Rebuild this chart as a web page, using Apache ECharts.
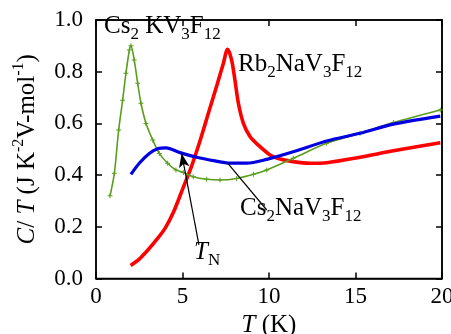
<!DOCTYPE html>
<html>
<head>
<meta charset="utf-8">
<script src="https://cdn.jsdelivr.net/npm/echarts@6/dist/echarts.min.js"></script>
<style>
html,body{margin:0;padding:0;background:#fff;}
#chart{width:451px;height:334px;}
</style>
</head>
<body>
<div id="chart"></div>
<script>
// Temperatures (K) and C/T values
const tGreen = [0.81, 1.06, 1.31, 1.54, 1.73, 1.93, 2.02, 2.21, 2.41, 2.6, 2.89, 3.28, 3.66, 4.14, 4.62, 5.05, 5.62, 6.4, 7.17, 8.13, 9.1, 9.87, 11.4, 13.33, 15.26, 17.19, 19.9];
const cGreen = [0.32, 0.407, 0.574, 0.69, 0.794, 0.884, 0.90, 0.845, 0.755, 0.678, 0.60, 0.536, 0.484, 0.446, 0.42, 0.41, 0.394, 0.384, 0.381, 0.387, 0.403, 0.42, 0.465, 0.523, 0.562, 0.603, 0.652];

const tRed = [2.0, 2.5, 3.0, 3.5, 4.0, 4.5, 5.0, 5.5, 6.0, 6.5, 7.0, 7.36, 7.61, 7.84, 8.03, 8.23, 8.52, 8.9, 9.38, 10.06, 10.64, 11.4, 12.37, 13.33, 15.26, 17.19, 19.9];
const cRed = [0.05, 0.075, 0.11, 0.15, 0.195, 0.26, 0.345, 0.43, 0.53, 0.64, 0.75, 0.832, 0.887, 0.845, 0.768, 0.678, 0.60, 0.549, 0.516, 0.478, 0.462, 0.452, 0.446, 0.448, 0.469, 0.494, 0.525];

const tBlue = [2.02, 2.5, 3.08, 3.56, 4.05, 4.86, 5.82, 6.78, 7.75, 8.71, 9.87, 11.4, 13.33, 15.26, 17.19, 19.9];
const cBlue = [0.403, 0.446, 0.484, 0.502, 0.505, 0.487, 0.469, 0.456, 0.446, 0.446, 0.461, 0.49, 0.532, 0.562, 0.597, 0.628];

const xTicks = [0, 5, 10, 15, 20];
const yTicks = [0.0, 0.2, 0.4, 0.6, 0.8, 1.0];

const serif = "'Liberation Serif', 'Times New Roman', 'DejaVu Serif', serif";
const zip = (a, b) => a.map((v, i) => [v, b[i]]);

function rich(main, sub, sup) {
  return {
    n: {fontFamily: serif, fontSize: main, lineHeight: main + 8, color: '#000', verticalAlign: 'middle'},
    i: {fontFamily: serif, fontSize: main, lineHeight: main + 8, color: '#000', fontStyle: 'italic', verticalAlign: 'middle'},
    sub: {fontFamily: serif, fontSize: sub, lineHeight: sub, color: '#000', verticalAlign: 'bottom'},
    sup: {fontFamily: serif, fontSize: sup, lineHeight: sup, color: '#000', verticalAlign: 'top'}
  };
}

const chart = echarts.init(document.getElementById('chart'));
const mk = () => ({
  axisLine: {show: true, onZero: false, lineStyle: {color: '#000', width: 1.5}},
  axisTick: {show: true, inside: true, length: 6, lineStyle: {color: '#000', width: 1.5}},
  splitLine: {show: false}
});
chart.setOption({
  animation: false,
  backgroundColor: '#fff',
  textStyle: {fontFamily: serif},
  grid: {left: 96, right: 9, top: 20, bottom: 55.5, containLabel: false, outerBoundsMode: 'none',
    show: true, borderColor: '#000', borderWidth: 1.5, backgroundColor: 'transparent'},
  xAxis: [
    Object.assign({
      type: 'value', min: xTicks[0], max: xTicks[xTicks.length - 1], interval: 5,
      position: 'bottom',
      axisLabel: {fontFamily: serif, fontSize: 23, color: '#000', margin: 7},
      name: '{i|T}{n| (K)}', nameLocation: 'middle', nameGap: 25,
      nameTextStyle: {fontFamily: serif, rich: rich(25, 17, 15)}
    }, mk()),
    Object.assign({
      type: 'value', min: xTicks[0], max: xTicks[xTicks.length - 1], interval: 5,
      position: 'top', axisLabel: {show: false}
    }, mk())
  ],
  yAxis: [
    Object.assign({
      type: 'value', min: yTicks[0], max: yTicks[yTicks.length - 1], interval: 0.2,
      position: 'left',
      axisLabel: {fontFamily: serif, fontSize: 23, color: '#000', margin: 13,
        formatter: v => v.toFixed(1)},
      name: '{i|C}{n|/ }{i|T}{n| (J K}{sup|-2}{n|V-mol}{sup|-1}{n|)}',
      nameLocation: 'middle', nameRotate: 90, nameGap: 52,
      nameTextStyle: {fontFamily: serif, rich: rich(25, 16, 16)}
    }, mk()),
    Object.assign({
      type: 'value', min: yTicks[0], max: yTicks[yTicks.length - 1], interval: 0.2,
      position: 'right', axisLabel: {show: false}
    }, mk())
  ],
  series: [
    {
      type: 'line', name: 'Cs2KV3F12', data: zip(tGreen, cGreen), smooth: 0.3,
      showSymbol: true, symbol: 'path://M4,0h2v4h4v2h-4v4h-2v-4h-4v-2h4z', symbolSize: 5,
      lineStyle: {color: '#5a9e1e', width: 1.6}, itemStyle: {color: '#5a9e1e'}, z: 3
    },
    {
      type: 'line', name: 'Rb2NaV3F12', data: zip(tRed, cRed), smooth: 0.3,
      showSymbol: false,
      lineStyle: {color: '#ff0000', width: 3.6}, itemStyle: {color: '#ff0000'}, z: 2
    },
    {
      type: 'line', name: 'Cs2NaV3F12', data: zip(tBlue, cBlue), smooth: 0.3,
      showSymbol: false,
      lineStyle: {color: '#0000e0', width: 3.2}, itemStyle: {color: '#0000e0'}, z: 4,
      markLine: {
        silent: true, animation: false, label: {show: false},
        data: [
          [{coord: [5.95, 0.13], symbol: 'none'}, {coord: [4.95, 0.484], symbol: 'arrow', symbolSize: [8, 14]}],
          [{coord: [9.87, 0.265], symbol: 'none'}, {coord: [7.61, 0.446], symbol: 'none'}]
        ],
        lineStyle: {color: '#000', width: 1.2, type: 'solid'},
        itemStyle: {color: '#000'}
      }
    }
  ],
  graphic: [
    {type: 'text', left: 104, top: 14, z: 10,
      style: {text: '{n|Cs}{sub|2}{n| KV}{sub|3}{n|F}{sub|12}', font: '25px ' + serif, rich: rich(25, 17, 15)}},
    {type: 'text', left: 238, top: 52, z: 10,
      style: {text: '{n|Rb}{sub|2}{n|NaV}{sub|3}{n|F}{sub|12}', font: '25px ' + serif, rich: rich(25, 17, 15)}},
    {type: 'text', left: 240, top: 196, z: 10,
      style: {text: '{n|Cs}{sub|2}{n|NaV}{sub|3}{n|F}{sub|12}', font: '25px ' + serif, rich: rich(25, 17, 15)}},
    {type: 'text', left: 194, top: 240, z: 10,
      style: {text: '{i|T}{sub|N}', font: '25px ' + serif, rich: rich(25, 17, 15)}}
  ]
});
</script>
</body>
</html>
